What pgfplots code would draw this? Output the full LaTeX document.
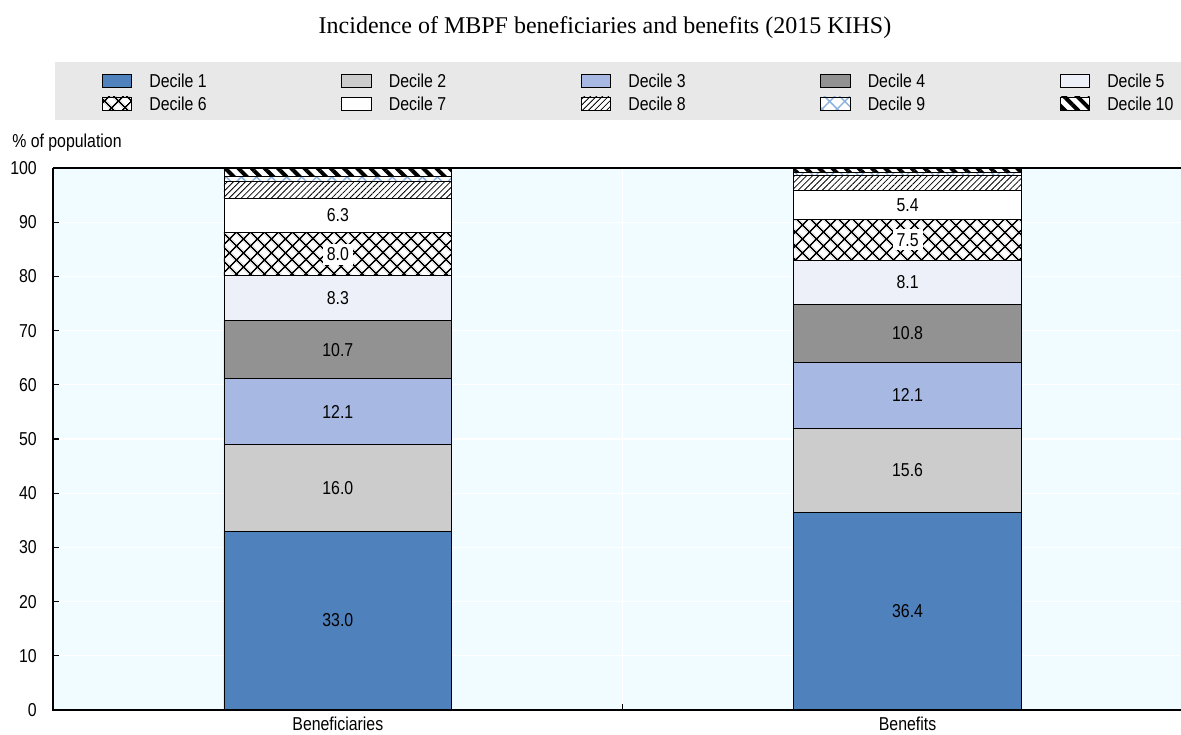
\documentclass[border=0pt]{standalone}
\usepackage{pgfplots}
\pgfplotsset{compat=1.18}
\usepackage{pgfplotstable}
\usetikzlibrary{patterns.meta}
\usepackage{fontspec}
\setmainfont{Liberation Sans}[FakeStretch=0.85]
\newfontfamily\titlefont{Liberation Serif}

\definecolor{dA}{RGB}{79,129,189}
\definecolor{dB}{RGB}{204,204,204}
\definecolor{dC}{RGB}{167,185,227}
\definecolor{dD}{RGB}{146,146,146}
\definecolor{dE}{RGB}{237,240,248}
\definecolor{dI}{RGB}{143,179,224}
\definecolor{bgc}{RGB}{240,252,255}
\definecolor{legbg}{RGB}{232,232,232}

\newcommand{\lbl}{\fontsize{14}{16}\selectfont}
\newcommand{\ent}[1]{\hspace{4.5pt}\makebox[135.5pt][l]{\rule[-4.5pt]{0pt}{17.25pt}#1}}

% shares by decile, % of total
\pgfplotstableread{
x   d1   d2   d3   d4   d5  d6  d7  d8  d9  d10
0   33.0 16.0 12.1 10.7 8.3 8.0 6.3 3.2 0.8 1.6
1   36.4 15.6 12.1 10.8 8.1 7.5 5.4 2.7 0.6 0.8
}\shares

% label positions (middle of each segment)
\pgfplotstableread{
x y     lab
0 16.50 33.0
0 41.00 16.0
0 55.05 12.1
0 66.45 10.7
0 75.95 8.3
0 91.25 6.3
1 18.20 36.4
1 44.20 15.6
1 58.05 12.1
1 69.50 10.8
1 78.95 8.1
1 93.20 5.4
}\midlabels

\pgfplotstableread{
x y     lab
0 84.10 8.0
1 86.75 7.5
}\hatchlabels

\begin{document}
\begin{tikzpicture}
\useasboundingbox (-39.75pt,-18.75pt) rectangle (846pt,532.5pt);
\fill[legbg] (1.5pt,442.5pt) rectangle (846pt,486pt);

\begin{axis}[
    scale only axis,
    width=846pt, height=406.5pt,
    xmin=-0.5, xmax=1.48,
    ymin=0, ymax=100,
    ybar stacked,
    bar width=0.4,
    axis background/.style={fill=bgc},
    axis line style={draw=none},
    xtick={0,1},
    xticklabels={Beneficiaries,Benefits},
    ytick={0,10,...,100},
    tick align=inside,
    tick pos=left,
    major tick length=4.5pt,
    xtick style={draw=none},
    ytick style={draw=black, line width=0.8pt},
    extra x ticks={0.5},
    extra x tick labels={},
    extra x tick style={grid=major, xtick style={draw=black, line width=0.8pt}},
    ymajorgrids,
    grid style={white, line width=0.8pt},
    /pgf/number format/assume math mode=true,
    ticklabel style={font=\lbl},
    yticklabel style={inner sep=0pt, xshift=-12pt},
    xticklabel style={inner sep=0pt, yshift=-5pt},
    legend columns=5,
    legend cell align=left,
    legend image code/.code={\draw[#1] (0pt,-5.5pt) rectangle (22pt,4.5pt);},
    legend style={draw=none, fill=none, font=\lbl,
        at={(axis description cs:0.04314,1.1412)}, anchor=west,
        inner sep=0pt, column sep=8.5pt, row sep=3pt,
        nodes={inner sep=0pt}},
    every axis plot/.append style={draw=black, line width=0.6pt},
    after end axis/.code={
        \draw[line width=1.3pt] (rel axis cs:0,1) -- (rel axis cs:0,0) -- (rel axis cs:1,0);
        \draw[line width=1.1pt] (rel axis cs:0,1) -- (rel axis cs:1,1);
    },
]
\addplot[fill=dA] table[x=x,y=d1] {\shares};
\addlegendentry{\ent{Decile 1}}
\addplot[fill=dB] table[x=x,y=d2] {\shares};
\addlegendentry{\ent{Decile 2}}
\addplot[fill=dC] table[x=x,y=d3] {\shares};
\addlegendentry{\ent{Decile 3}}
\addplot[fill=dD] table[x=x,y=d4] {\shares};
\addlegendentry{\ent{Decile 4}}
\addplot[fill=dE] table[x=x,y=d5] {\shares};
\addlegendentry{\ent{Decile 5}}
\addplot[fill=white, postaction={pattern={Hatch[angle=45,distance=7.4pt,line width=1.2pt]}, pattern color=black}] table[x=x,y=d6] {\shares};
\addlegendentry{\ent{Decile 6}}
\addplot[fill=white] table[x=x,y=d7] {\shares};
\addlegendentry{\ent{Decile 7}}
\addplot[fill=white, postaction={pattern={Lines[angle=45,distance=3.2pt,line width=0.6pt]}, pattern color=black}] table[x=x,y=d8] {\shares};
\addlegendentry{\ent{Decile 8}}
\addplot[fill=white, postaction={pattern={Hatch[angle=45,distance=8pt,line width=1.1pt]}, pattern color=dI}] table[x=x,y=d9] {\shares};
\addlegendentry{\ent{Decile 9}}
\addplot[fill=white, postaction={pattern={Lines[angle=-45,distance=7pt,line width=3pt]}, pattern color=black}] table[x=x,y=d10] {\shares};
\addlegendentry{\ent{Decile 10}}
\end{axis}

\begin{axis}[
    scale only axis,
    width=846pt, height=406.5pt,
    xmin=-0.5, xmax=1.48,
    ymin=0, ymax=100,
    hide axis, clip=false,
    point meta=explicit symbolic,
    nodes near coords,
    every node near coord/.append style={font=\lbl, anchor=center, text=black},
]
\addplot[only marks, mark=*, mark size=0pt, mark options={draw=none, fill=none}]
    table[x=x,y=y,meta=lab] {\midlabels};
\addplot[only marks, mark=*, mark size=0pt, mark options={draw=none, fill=none},
    every node near coord/.append style={fill=white, inner sep=3pt}]
    table[x=x,y=y,meta=lab] {\hatchlabels};
\end{axis}

\node[font=\titlefont\fontsize{18}{20}\selectfont] at (414pt,511.5pt)
    {Incidence of MBPF beneficiaries and benefits (2015 KIHS)};
\node[font=\lbl, anchor=west, inner sep=0pt] at (-30.75pt,425.25pt) {\% of population};
\end{tikzpicture}
\end{document}
